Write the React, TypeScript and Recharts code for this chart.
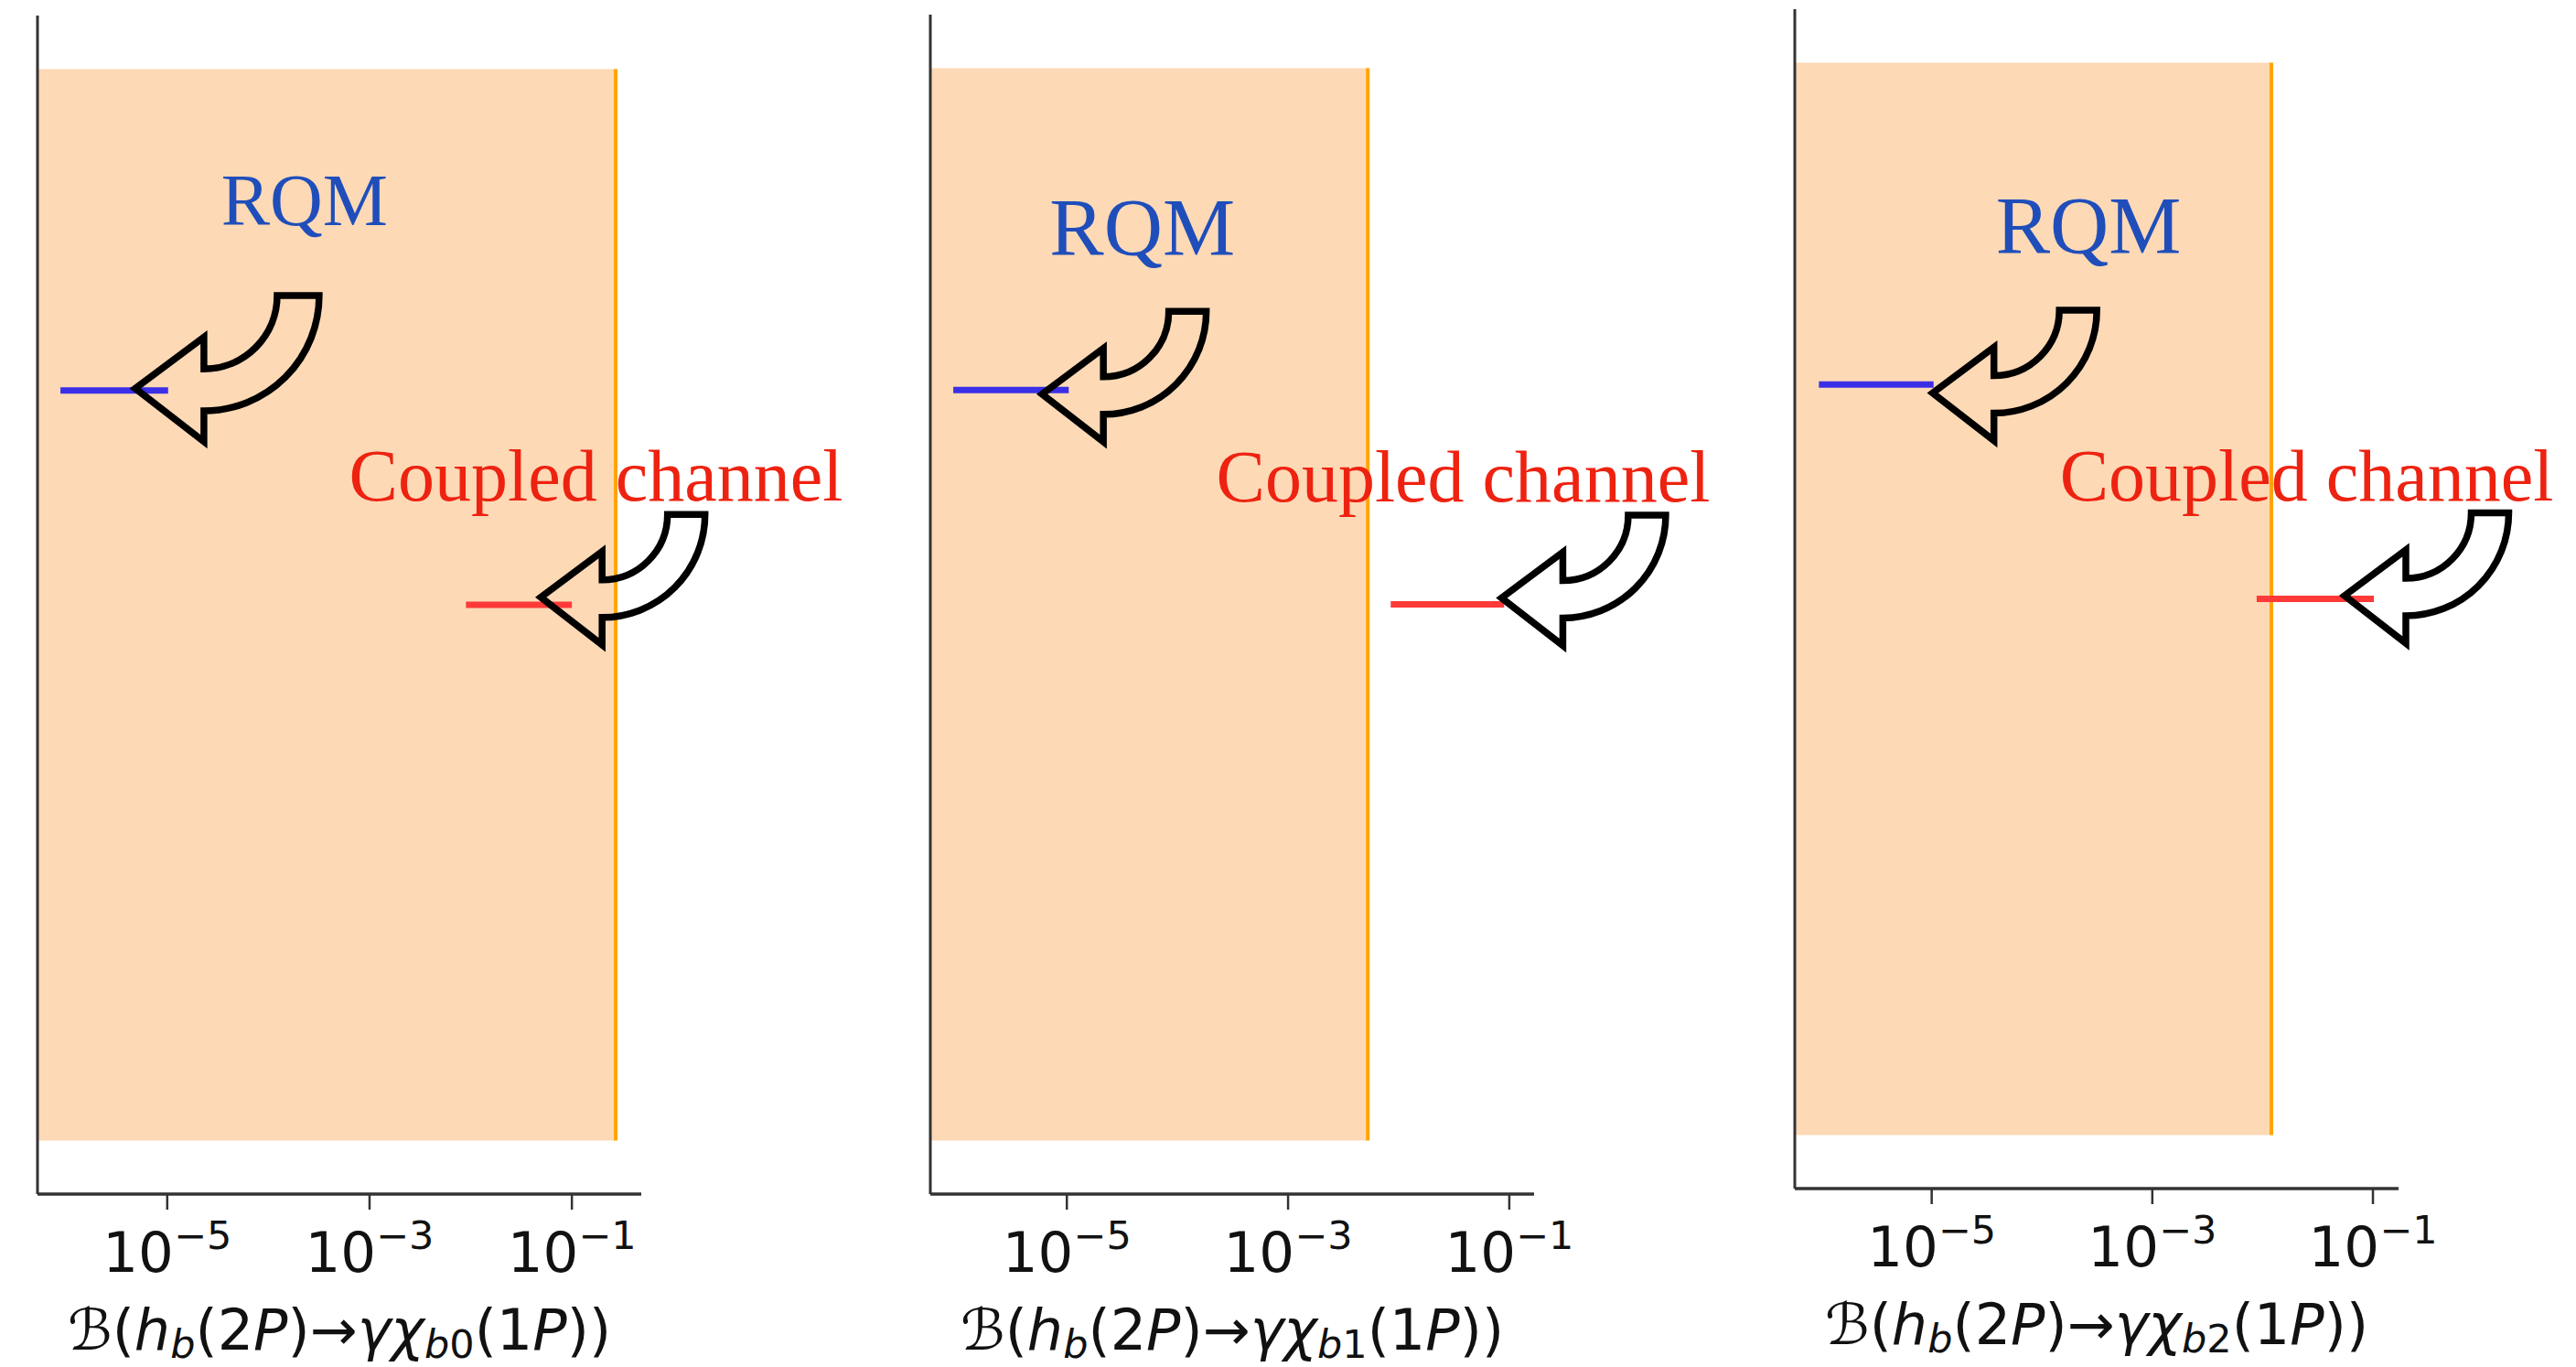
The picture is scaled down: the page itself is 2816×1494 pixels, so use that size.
import { ComposedChart, XAxis, YAxis, Line, ReferenceArea, ReferenceLine, ReferenceDot } from "recharts";

// chi_bJ(1P) final states, one panel each
const finalStates = ["b0", "b1", "b2"];

// branching-ratio axis limits (log scale) and ticks
const xLimits = [
  [5.22e-7, 0.485],
  [5.83e-7, 0.1675],
  [5.74e-7, 0.1706],
];
const xTicks = [1e-5, 1e-3, 1e-1];
const yLimits = [-0.05, 1.05];

// shaded band: allowed region below the experimental upper limit
const upperLimits = [0.271, 5.26e-3, 0.012];
const bandSpan = [0, 1];

// model predictions as [low, high] ranges
const rqmRanges = [
  [8.8e-7, 1.02e-5],
  [9.4e-7, 1.04e-5],
  [9.5e-7, 1.04e-5],
];
const coupledRanges = [
  [8.97e-3, 0.1],
  [8.47e-3, 0.0899],
  [8.83e-3, 0.102],
];
const rqmLevel = 0.7;
const coupledLevel = 0.5;

// annotation anchors in data coordinates
const rqmTextAt = [
  { x: 3.41e-5, y: 0.854 },
  { x: 6.97e-6, y: 0.826 },
  { x: 3.81e-5, y: 0.823 },
];
const coupledTextAt = [
  { x: 6.27e-4, y: 0.597 },
  { x: 2.24e-4, y: 0.596 },
  { x: 1.45e-4, y: 0.592 },
];
const rqmArrowTip = [
  { x: 4.83e-6, y: 0.702 },
  { x: 5.97e-6, y: 0.696 },
  { x: 1.02e-5, y: 0.692 },
];
const coupledArrowTip = [
  { x: 0.0493, y: 0.507 },
  { x: 0.0851, y: 0.506 },
  { x: 0.0553, y: 0.503 },
];

// page layout
const panelX = [41, 1017, 1962];
const panelTop = [17, 16, 10];
const panelBottom = [1305, 1305, 1299];
const rightPad = [220, 200, 190];
const plotW = 660;
const leftPad = 40;
const yAxisW = 1;
const rqmFontSize = [80, 89, 89];
const rqmArrowScale = [1.12, 1, 1];

const SERIF = "'Liberation Serif', 'Times New Roman', serif";
const SANS = "'DejaVu Sans', sans-serif";

function PowerTick(props: any) {
  const { x, y, payload } = props;
  const exp = Math.round(Math.log10(payload.value));
  return (
    <text x={x} y={y + 66} textAnchor="middle" fontFamily={SANS} fontSize={61} fill="#111">
      10
      <tspan dy={-25} fontSize={43}>
        {"\u2212" + Math.abs(exp)}
      </tspan>
    </text>
  );
}

function BranchingLabel({ viewBox, sub }: any) {
  const { x, y, width } = viewBox;
  const s = 43;
  return (
    <text x={x + width / 2} y={y + 170} textAnchor="middle" fontFamily={SANS} fontSize={62} fill="#111">
      <tspan fontStyle="italic">ℬ</tspan>
      <tspan>(</tspan>
      <tspan fontStyle="italic">h</tspan>
      <tspan fontStyle="italic" fontSize={s} dy={9}>b</tspan>
      <tspan dy={-9}>(2</tspan>
      <tspan fontStyle="italic">P</tspan>
      <tspan>)→</tspan>
      <tspan fontStyle="italic">γχ</tspan>
      <tspan fontStyle="italic" fontSize={s} dy={9}>b</tspan>
      <tspan fontSize={s}>{sub.slice(1)}</tspan>
      <tspan dy={-9}>(1</tspan>
      <tspan fontStyle="italic">P</tspan>
      <tspan>))</tspan>
    </text>
  );
}

// hollow curved arrow, tip at (cx, cy), tail curling up to the right
function CurvedArrow({ cx, cy, scale }: any) {
  const s = scale;
  const bx = 67 * s;
  const up = 50 * s;
  const lo = 52 * s;
  const top = 90.5 * s;
  const ri = 71.5 * s;
  const ro = 112.5 * s;
  const d = [
    `M ${cx} ${cy}`,
    `L ${cx + bx} ${cy - up}`,
    `L ${cx + bx} ${cy - top + ri}`,
    `A ${ri} ${ri} 0 0 0 ${cx + bx + ri} ${cy - top}`,
    `L ${cx + bx + ro} ${cy - top}`,
    `A ${ro} ${ro} 0 0 1 ${cx + bx} ${cy - top + ro}`,
    `L ${cx + bx} ${cy + lo}`,
    "Z",
  ].join(" ");
  return <path d={d} fill="none" stroke="#000" strokeWidth={7.5} strokeLinejoin="miter" />;
}

function Panel({ i }: { i: number }) {
  const width = leftPad + yAxisW + plotW + rightPad[i];
  const axisH = 1494 - panelBottom[i];
  const rqmData = rqmRanges[i].map((x) => ({ x, y: rqmLevel }));
  const coupledData = coupledRanges[i].map((x) => ({ x, y: coupledLevel }));

  return (
    <div style={{ position: "absolute", left: panelX[i] - leftPad - yAxisW, top: 0 }}>
      <ComposedChart
        width={width}
        height={1494}
        margin={{ top: panelTop[i], right: rightPad[i], bottom: 0, left: leftPad }}
      >
        <XAxis
          dataKey="x"
          type="number"
          scale="log"
          domain={xLimits[i]}
          allowDataOverflow
          ticks={xTicks}
          tick={(p: any) => <PowerTick {...p} />}
          tickSize={17}
          tickLine={{ stroke: "#333", strokeWidth: 2.5 }}
          axisLine={{ stroke: "#333", strokeWidth: 3.5 }}
          height={axisH}
          label={(p: any) => <BranchingLabel {...p} sub={finalStates[i]} />}
        />
        <YAxis
          type="number"
          domain={yLimits}
          allowDataOverflow
          width={yAxisW}
          tick={false}
          tickLine={false}
          axisLine={{ stroke: "#333", strokeWidth: 3 }}
        />
        <ReferenceArea
          x1={xLimits[i][0]}
          x2={upperLimits[i]}
          y1={bandSpan[0]}
          y2={bandSpan[1]}
          fill="#FDD9B6"
          fillOpacity={1}
          stroke="none"
        />
        <ReferenceLine
          segment={[
            { x: upperLimits[i], y: bandSpan[0] },
            { x: upperLimits[i], y: bandSpan[1] },
          ]}
          stroke="#FFA500"
          strokeWidth={4}
        />
        <Line
          data={rqmData}
          dataKey="y"
          stroke="#3A2FE6"
          strokeWidth={7}
          dot={false}
          isAnimationActive={false}
        />
        <Line
          data={coupledData}
          dataKey="y"
          stroke="#FD3A38"
          strokeWidth={7}
          dot={false}
          isAnimationActive={false}
        />
        <ReferenceDot
          x={rqmArrowTip[i].x}
          y={rqmArrowTip[i].y}
          r={0}
          shape={(p: any) => <CurvedArrow cx={p.cx} cy={p.cy} scale={rqmArrowScale[i]} />}
        />
        <ReferenceDot
          x={coupledArrowTip[i].x}
          y={coupledArrowTip[i].y}
          r={0}
          shape={(p: any) => <CurvedArrow cx={p.cx} cy={p.cy} scale={1} />}
        />
        <ReferenceDot
          x={rqmTextAt[i].x}
          y={rqmTextAt[i].y}
          r={0}
          shape={(p: any) => (
            <text x={p.cx} y={p.cy} fontFamily={SERIF} fontSize={rqmFontSize[i]} fill="#1F4EBB">
              RQM
            </text>
          )}
        />
        <ReferenceDot
          x={coupledTextAt[i].x}
          y={coupledTextAt[i].y}
          r={0}
          shape={(p: any) => (
            <text x={p.cx} y={p.cy} fontFamily={SERIF} fontSize={80} fill="#EE2211">
              Coupled channel
            </text>
          )}
        />
      </ComposedChart>
    </div>
  );
}

export default function App() {
  return (
    <div
      style={{
        position: "absolute",
        left: 0,
        top: 0,
        width: 2816,
        height: 1494,
        overflow: "hidden",
        background: "#fff",
      }}
    >
      {finalStates.map((_, i) => (
        <Panel key={i} i={i} />
      ))}
    </div>
  );
}
